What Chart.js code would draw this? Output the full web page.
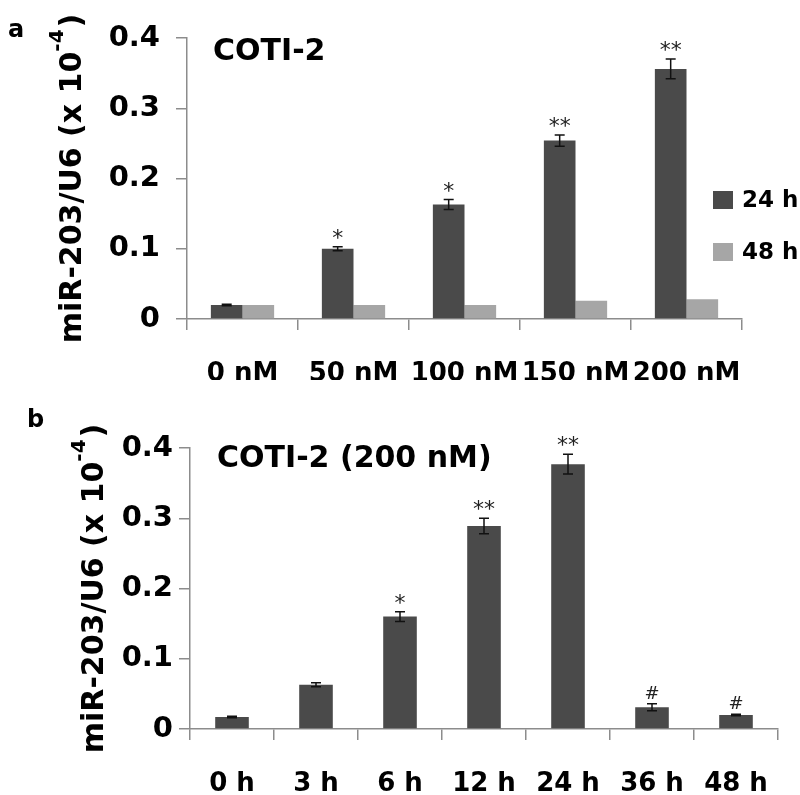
<!DOCTYPE html>
<html>
<head>
<meta charset="utf-8">
<script src="https://cdn.jsdelivr.net/npm/chart.js@4.4.0/dist/chart.umd.min.js"></script>
<style>
    html, body { margin: 0; padding: 0; background: #fff; }
    #wrap { position: relative; width: 800px; height: 795px; overflow: hidden; }
    canvas { position: absolute; left: 0; }
    #doseChart { top: 0; }
    #timeChart { top: 380px; }
</style>
</head>
<body>
<div id="wrap">
    <canvas id="doseChart" width="800" height="380"></canvas>
    <canvas id="timeChart" width="800" height="415"></canvas>
</div>
<script>
// panel a: dose response
const doseLabels = ['0 nM', '50 nM', '100 nM', '150 nM', '200 nM'];
const dose24 = [0.02, 0.1, 0.163, 0.254, 0.356];
const dose24Err = [0.001, 0.003, 0.007, 0.008, 0.014];
const dose48 = [0.02, 0.02, 0.02, 0.026, 0.028];
const doseMarks = ['', '*', '*', '**', '**'];

// panel b: time course at 200 nM
const timeLabels = ['0 h', '3 h', '6 h', '12 h', '24 h', '36 h', '48 h'];
const timeValues = [0.017, 0.063, 0.16, 0.289, 0.377, 0.031, 0.02];
const timeErr = [0.001, 0.003, 0.007, 0.011, 0.014, 0.005, 0.001];
const timeMarks = ['', '', '*', '**', '**', '#', '#'];

const yTickLabels = ['0', '0.1', '0.2', '0.3', '0.4'];

const FONT = '"DejaVu Sans", sans-serif';
const DARK = '#4a4a4a';
const LIGHT = '#a6a6a6';
const AXIS = '#8c8c8c';

// error bars and significance marks on the first dataset
const errorBars = {
    id: 'errorBars',
    afterDatasetsDraw(chart, args, opts) {
        const ctx = chart.ctx;
        const y = chart.scales.y;
        const meta = chart.getDatasetMeta(0);
        const values = chart.data.datasets[0].data;
        ctx.save();
        ctx.strokeStyle = '#111';
        ctx.lineWidth = 1.5;
        opts.errors.forEach((e, i) => {
            const x = meta.data[i].x;
            const top = y.getPixelForValue(values[i] + e);
            const bot = y.getPixelForValue(values[i] - e);
            ctx.beginPath();
            ctx.moveTo(x, top); ctx.lineTo(x, bot);
            ctx.moveTo(x - 5, top); ctx.lineTo(x + 5, top);
            ctx.moveTo(x - 5, bot); ctx.lineTo(x + 5, bot);
            ctx.stroke();
            const m = opts.marks[i];
            if (!m) return;
            ctx.fillStyle = '#222';
            ctx.textAlign = 'center';
            ctx.textBaseline = 'alphabetic';
            if (m === '#') {
                ctx.font = '18px ' + FONT;
                ctx.fillText(m, x, top - 5);
            } else {
                ctx.font = '22px ' + FONT;
                ctx.fillText(m, x, top - 2);
            }
        });
        ctx.restore();
    }
};

// panel letter, title, y axis title with superscript, legend
const decor = {
    id: 'decor',
    afterDraw(chart, args, o) {
        const ctx = chart.ctx;
        const ca = chart.chartArea;
        ctx.save();
        ctx.fillStyle = '#000';
        ctx.textAlign = 'left';

        ctx.font = 'bold 24px ' + FONT;
        ctx.textBaseline = 'alphabetic';
        ctx.fillText(o.letter, o.letterX, o.letterY);

        ctx.font = 'bold 30px ' + FONT;
        ctx.textBaseline = 'middle';
        ctx.fillText(o.title, o.titleX, o.titleY);

        // y title, rotated
        const main = 'miR-203/U6 (x 10';
        const sup = '-4';
        const close = ')';
        const big = 'bold 30px ' + FONT;
        const small = 'bold 20px ' + FONT;
        ctx.font = big;
        const w1 = ctx.measureText(main).width;
        const w3 = ctx.measureText(close).width;
        ctx.font = small;
        const w2 = ctx.measureText(sup).width;
        const total = w1 + w2 + w3 + 2;
        ctx.translate(o.yTitleX, (ca.top + ca.bottom) / 2);
        ctx.rotate(-Math.PI / 2);
        ctx.textBaseline = 'alphabetic';
        let cx = -total / 2;
        ctx.font = big;
        ctx.fillText(main, cx, 0);
        cx += w1;
        ctx.font = small;
        ctx.fillText(sup, cx, -18);
        cx += w2 + 2;
        ctx.font = big;
        ctx.fillText(close, cx, 0);
        ctx.setTransform(1, 0, 0, 1, 0, 0);

        if (o.legend) {
            ctx.font = 'bold 23px ' + FONT;
            ctx.textBaseline = 'middle';
            chart.data.datasets.forEach((ds, i) => {
                const cy = o.legend.y + i * o.legend.gap;
                ctx.fillStyle = ds.backgroundColor;
                ctx.fillRect(o.legend.x, cy - 9, 20, 18);
                ctx.fillStyle = '#000';
                ctx.fillText(ds.label, o.legend.x + 29, cy + 1);
            });
        }
        ctx.restore();
    }
};

function yScale(width, pad) {
    return {
        min: 0,
        max: 0.4,
        ticks: {
            stepSize: 0.1,
            padding: pad,
            color: '#000',
            font: { family: FONT, size: 29, weight: 'bold' },
            callback: (v, i) => yTickLabels[i]
        },
        grid: { drawOnChartArea: false, drawTicks: true, tickLength: 11, color: AXIS, lineWidth: 1.5 },
        border: { color: AXIS, width: 1.5 },
        afterFit(s) { s.width = width; }
    };
}

function xScale(height, pad) {
    return {
        ticks: {
            padding: pad,
            color: '#000',
            maxRotation: 0,
            autoSkip: false,
            font: { family: FONT, size: 26, weight: 'bold' }
        },
        grid: { offset: true, drawOnChartArea: false, tickLength: 11, color: AXIS, lineWidth: 1.5 },
        border: { color: AXIS, width: 1.5 },
        afterFit(s) { s.height = height; }
    };
}

new Chart(document.getElementById('doseChart'), {
    type: 'bar',
    data: {
        labels: doseLabels,
        datasets: [
            { label: '24 h', data: dose24, backgroundColor: DARK },
            { label: '48 h', data: dose48, backgroundColor: LIGHT }
        ]
    },
    options: {
        responsive: false,
        animation: false,
        categoryPercentage: 0.57,
        barPercentage: 1.0,
        layout: { autoPadding: false, padding: { left: 0, top: 38, right: 58, bottom: 0 } },
        scales: { x: xScale(61, 29), y: yScale(187, 16) },
        plugins: {
            legend: { display: false },
            tooltip: { enabled: false },
            errorBars: { errors: dose24Err, marks: doseMarks },
            decor: {
                letter: 'a', letterX: 8, letterY: 37,
                title: 'COTI-2', titleX: 213, titleY: 52,
                yTitleX: 81,
                legend: { x: 713, y: 200, gap: 52 }
            }
        }
    },
    plugins: [errorBars, decor]
});

new Chart(document.getElementById('timeChart'), {
    type: 'bar',
    data: {
        labels: timeLabels,
        datasets: [{ label: 'COTI-2 (200 nM)', data: timeValues, backgroundColor: DARK }]
    },
    options: {
        responsive: false,
        animation: false,
        categoryPercentage: 1.0,
        barPercentage: 0.4,
        layout: { autoPadding: false, padding: { left: 0, top: 68, right: 22, bottom: 0 } },
        scales: { x: xScale(66, 29), y: yScale(190, 6) },
        plugins: {
            legend: { display: false },
            tooltip: { enabled: false },
            errorBars: { errors: timeErr, marks: timeMarks },
            decor: {
                letter: 'b', letterX: 27, letterY: 47,
                title: 'COTI-2 (200 nM)', titleX: 217, titleY: 79,
                yTitleX: 103
            }
        }
    },
    plugins: [errorBars, decor]
});
</script>
</body>
</html>
